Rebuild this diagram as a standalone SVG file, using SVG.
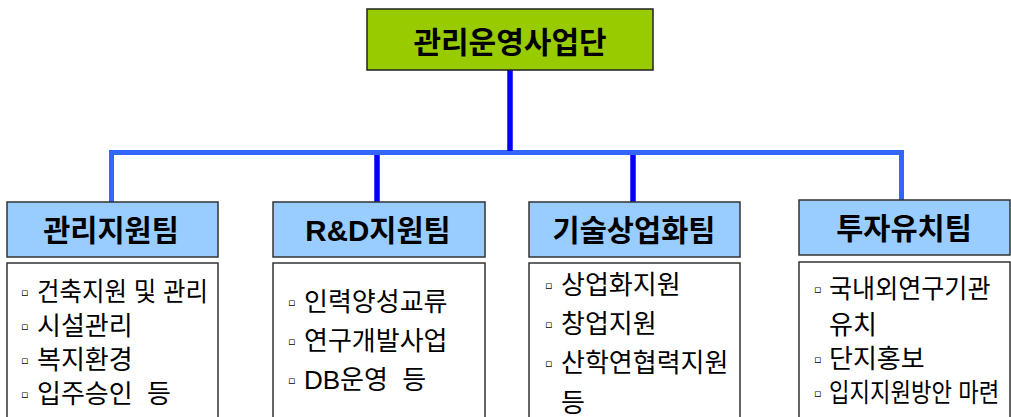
<svg xmlns="http://www.w3.org/2000/svg" width="1011" height="417" viewBox="0 0 1011 417">
<style>
.top{fill:#99CC00;stroke:#222;stroke-width:1.5}
.hdr{fill:#99CCFF;stroke:#333;stroke-width:1.5}
.body{fill:#fff;stroke:#333;stroke-width:1.5}
.tt{font-family:"Liberation Sans","Noto Sans CJK KR",sans-serif;font-weight:bold;font-size:30px;fill:#000;text-anchor:middle}
.ht{font-family:"Liberation Sans","Noto Sans CJK KR",sans-serif;font-weight:bold;font-size:29.5px;fill:#000;text-anchor:middle}
.it{font-family:"Liberation Sans","Noto Sans CJK KR",sans-serif;font-size:26px;fill:#000}
.ws{word-spacing:7px}
.bl{font-family:"DejaVu Sans",sans-serif;font-size:11px;fill:#000}
.dk{stroke:#0000FF;stroke-width:5.5;fill:none}
.lt{stroke:#3366FF;stroke-width:5;fill:none}
</style>
<g id="connectors">
<path class="lt" d="M111.5 202 V152.5 H901.5 V200"/>
<line class="dk" x1="510" y1="70" x2="510" y2="151"/>
<line class="dk" x1="377" y1="155" x2="377" y2="202"/>
<line class="dk" x1="633" y1="155" x2="633" y2="202"/>
</g>
<g id="root">
<rect class="top" x="367" y="9" width="286" height="61"/>
<text class="tt" x="510" y="53">관리운영사업단</text>
</g>
<g id="team1">
<rect class="hdr" x="7" y="202" width="211" height="55"/>
<text class="ht" x="111" y="241">관리지원팀</text>
<rect class="body" x="7" y="263" width="211" height="160"/>
<text class="bl" x="21" y="296">▫</text><text class="it" transform="translate(37,301) scale(0.94,1)">건축지원 및 관리</text>
<text class="bl" x="21" y="330">▫</text><text class="it" x="37" y="335">시설관리</text>
<text class="bl" x="21" y="364">▫</text><text class="it" x="37" y="369">복지환경</text>
<text class="bl" x="21" y="398">▫</text><text class="it ws" x="37" y="403">입주승인 등</text>
</g>
<g id="team2">
<rect class="hdr" x="273" y="202" width="212" height="55"/>
<text class="ht" x="378" y="241">R&amp;D지원팀</text>
<rect class="body" x="273" y="263" width="212" height="160"/>
<text class="bl" x="288" y="306">▫</text><text class="it" x="304" y="311">인력양성교류</text>
<text class="bl" x="288" y="345">▫</text><text class="it" x="304" y="350">연구개발사업</text>
<text class="bl" x="288" y="384">▫</text><text class="it ws" x="304" y="389">DB운영 등</text>
</g>
<g id="team3">
<rect class="hdr" x="529" y="202" width="211" height="55"/>
<text class="ht" x="634" y="241">기술상업화팀</text>
<rect class="body" x="529" y="263" width="211" height="160"/>
<text class="bl" x="545" y="289">▫</text><text class="it" x="561" y="294">상업화지원</text>
<text class="bl" x="545" y="328">▫</text><text class="it" x="561" y="333">창업지원</text>
<text class="bl" x="545" y="367">▫</text><text class="it" x="561" y="372">산학연협력지원</text>
<text class="it" x="561" y="412">등</text>
</g>
<g id="team4">
<rect class="hdr" x="799" y="200" width="211" height="55"/>
<text class="ht" x="904" y="239">투자유치팀</text>
<rect class="body" x="799" y="262" width="211" height="160"/>
<text class="bl" x="814" y="293">▫</text><text class="it" transform="translate(829,298) scale(0.965,1)">국내외연구기관</text>
<text class="it" x="829" y="334">유치</text>
<text class="bl" x="814" y="363">▫</text><text class="it" x="829" y="368">단지홍보</text>
<text class="bl" x="814" y="397">▫</text><text class="it" transform="translate(829,402) scale(0.857,1)">입지지원방안 마련</text>
</g>
</svg>
